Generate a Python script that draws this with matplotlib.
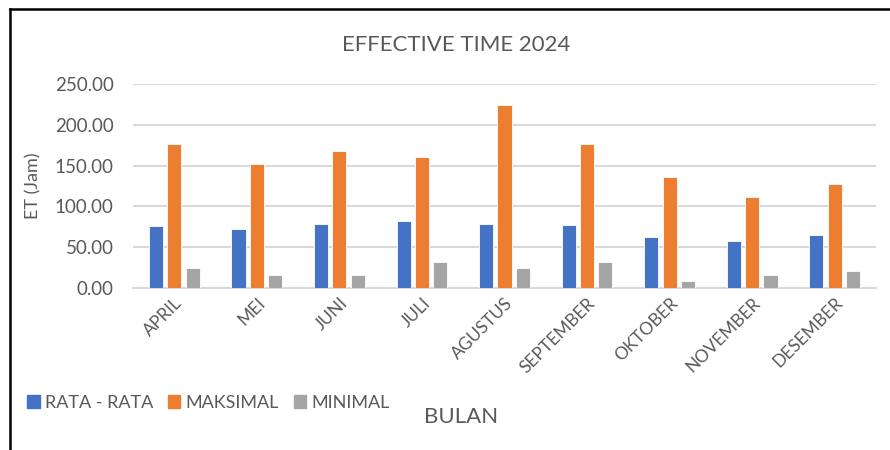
import matplotlib
matplotlib.use("Agg")
import matplotlib.pyplot as plt
import numpy as np
from matplotlib.lines import Line2D

plt.rcParams['font.family'] = ['Lato', 'DejaVu Sans']

months = ["APRIL", "MEI", "JUNI", "JULI", "AGUSTUS", "SEPTEMBER", "OKTOBER", "NOVEMBER", "DESEMBER"]
rata = [76, 72, 78, 81.5, 78, 77, 62, 57, 65]
maks = [176, 152, 168, 160, 224, 176, 136, 112, 128]
mini = [24, 16, 16, 32, 24, 32, 8, 16, 21]
series_names = ["RATA - RATA", "MAKSIMAL", "MINIMAL"]
colors = ["#4472C4", "#ED7D31", "#A5A5A5"]
yticks = [0, 50, 100, 150, 200, 250]

W, H = 890, 450
fig = plt.figure(figsize=(W / 100, H / 100), dpi=100)
ax = fig.add_axes([133 / W, 1 - 288 / H, (876 - 133) / W, (288 - 84) / H])

x = np.arange(len(months))
bw = 0.17
off = 0.222
for i, (vals, c, n) in enumerate(zip([rata, maks, mini], colors, series_names)):
    ax.bar(x + (i - 1) * off, vals, width=bw, color=c, label=n, zorder=3,
           edgecolor='white', linewidth=0.6)

ax.set_xlim(-0.5, len(months) - 0.5)
ax.set_ylim(0, 250)
ax.set_yticks(yticks)
ax.set_yticklabels([f"{v:.2f}" for v in yticks], fontsize=13.5, color="#595959")
ax.yaxis.grid(True, color="#D9D9D9", linewidth=1.5, zorder=0)
ax.tick_params(axis='y', length=0, pad=14)
ax.tick_params(axis='x', length=0, pad=5)
ax.set_xticks(x)
ax.set_xticklabels(months, rotation=45, ha='right', rotation_mode='anchor',
                   fontsize=12.5, color="#595959")
for s in ['top', 'right', 'left']:
    ax.spines[s].set_visible(False)
ax.spines['bottom'].set_color("#D9D9D9")
ax.spines['bottom'].set_linewidth(1.5)

ax.set_ylabel("ET (Jam)", fontsize=13, color="#595959")
ax.yaxis.set_label_coords((41 - 133) / (876 - 133), 0.5)

fig.text(456 / W, 1 - 45 / H, "EFFECTIVE TIME 2024", ha='center', va='center',
         fontsize=16, color="#595959")
fig.text(461 / W, 1 - 417 / H, "BULAN", ha='center', va='center',
         fontsize=16, color="#595959")

handles = [plt.Rectangle((0, 0), 1, 1, color=c) for c in colors]
fig.legend(handles, series_names, loc='center left', bbox_to_anchor=(27 / W, 1 - 403 / H),
           ncol=3, frameon=False, fontsize=13, labelcolor="#595959",
           handlelength=0.7, handleheight=0.7, handletextpad=0.3, columnspacing=0.8,
           borderaxespad=0, borderpad=0)

# outer chart border
fig.add_artist(Line2D([9.5 / W, 9.5 / W], [0, 1 - 8.5 / H], transform=fig.transFigure,
                      color='black', linewidth=1.8))
fig.add_artist(Line2D([9.5 / W, 1], [1 - 8.5 / H, 1 - 8.5 / H], transform=fig.transFigure,
                      color='black', linewidth=1.8))

fig.savefig("out.png", dpi=100)
